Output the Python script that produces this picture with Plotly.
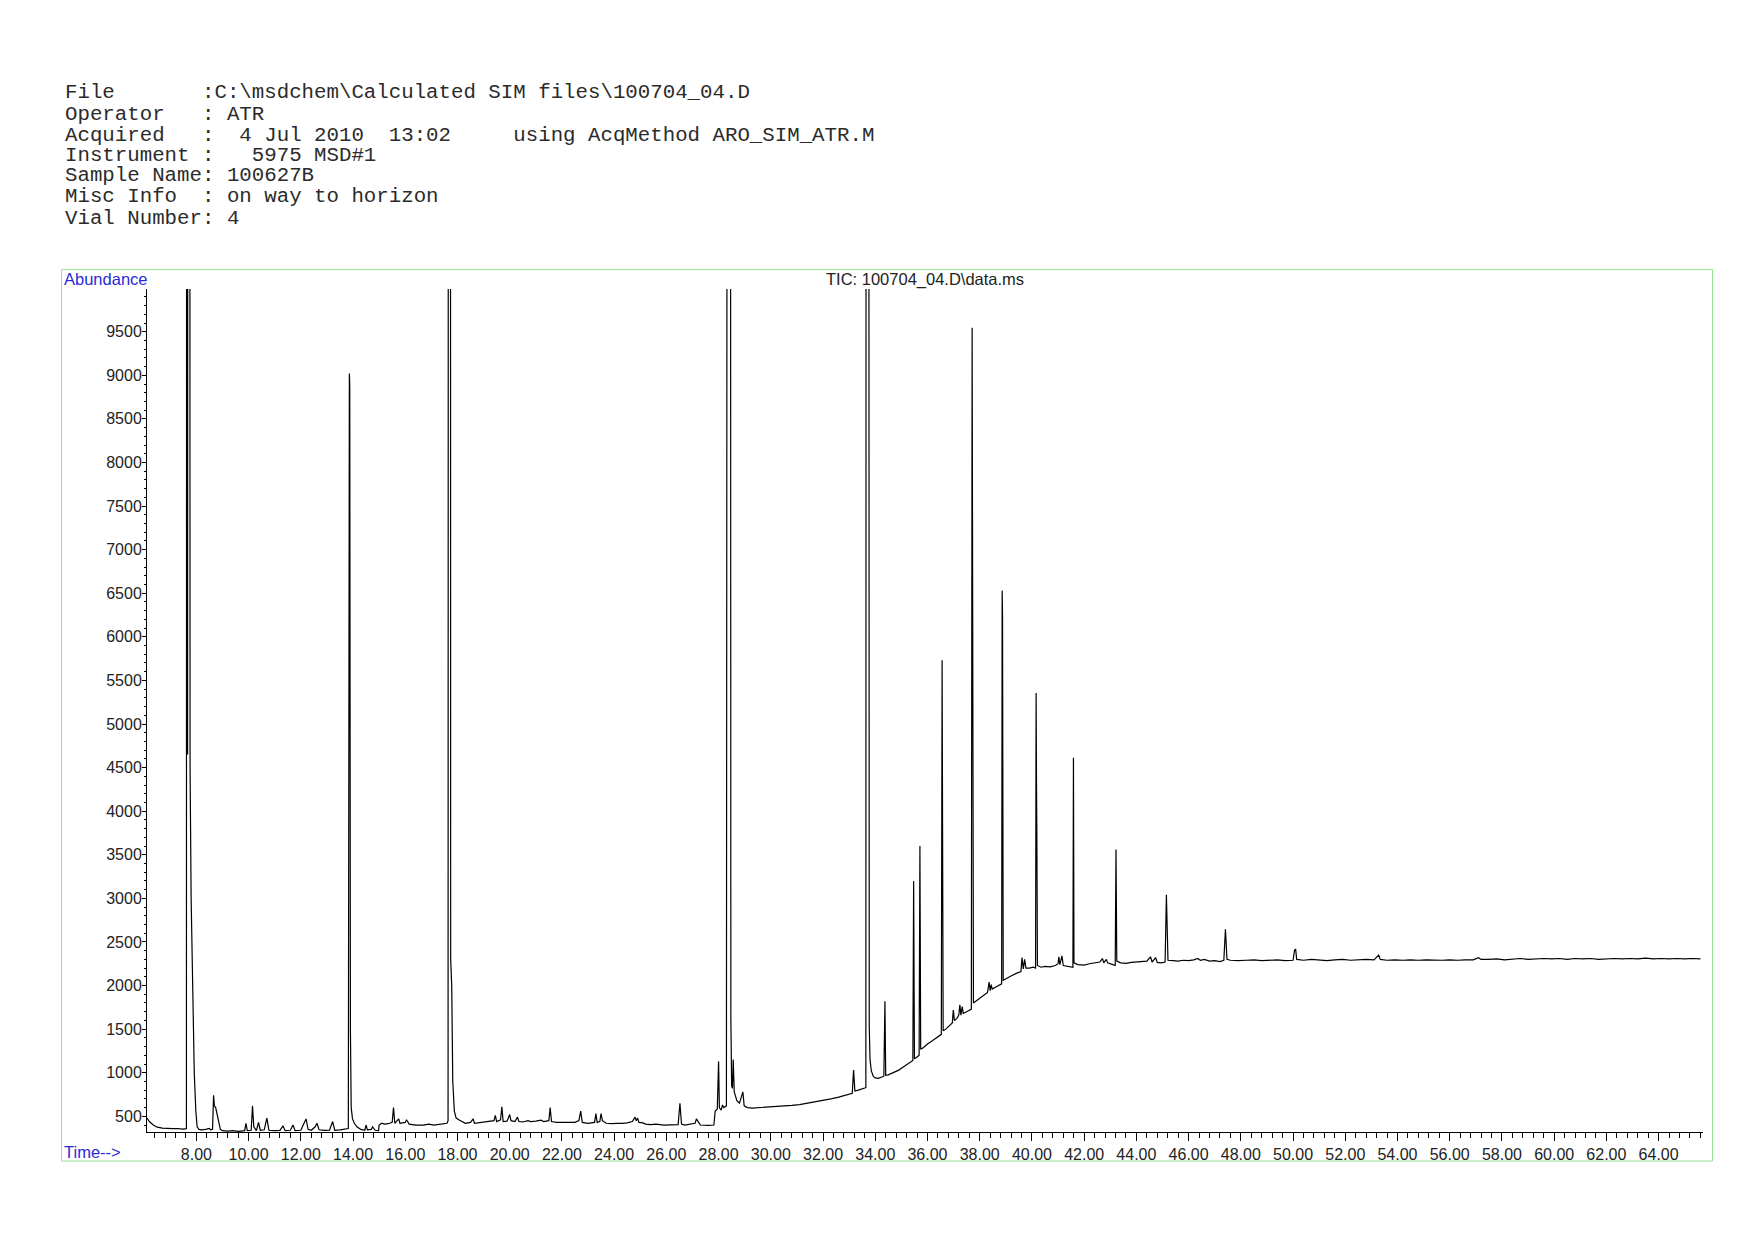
import plotly.graph_objects as go

# ---------------- header text ----------------
header_lines = [
    "File       :C:\\msdchem\\Calculated SIM files\\100704_04.D",
    "Operator   : ATR",
    "Acquired   :  4 Jul 2010  13:02     using AcqMethod ARO_SIM_ATR.M",
    "Instrument :   5975 MSD#1",
    "Sample Name: 100627B",
    "Misc Info  : on way to horizon",
    "Vial Number: 4",
]
chart_title = "TIC: 100704_04.D\\data.ms"
y_label = "Abundance"
x_label = "Time-->"

# ---------------- chromatogram (retention time [min], abundance) ----------------
t_early = [6.11, 6.2, 6.35, 6.5, 6.7, 6.9, 7.1, 7.3, 7.45, 7.58, 7.62, 7.635, 7.665, 7.68, 7.73,
           7.76, 7.80, 7.86, 7.92, 7.98, 8.03, 8.1, 8.2, 8.35, 8.5, 8.55, 8.62, 8.66, 8.69, 8.74,
           8.8, 8.86, 8.92, 9.0, 9.2, 9.4, 9.6, 9.85, 9.9, 9.95, 10.1, 10.15, 10.2, 10.3, 10.38,
           10.45, 10.6, 10.7, 10.78, 11.0, 11.2, 11.32, 11.4, 11.6, 11.7, 11.78, 12.0, 12.2, 12.28,
           12.4, 12.55, 12.62, 12.7, 12.9, 13.1, 13.22, 13.3, 13.5, 13.7, 13.82, 13.86, 13.875,
           13.9, 13.93, 13.98, 14.05, 14.15, 14.3, 14.45, 14.5, 14.55, 14.7, 14.75, 14.85, 14.98,
           15.0, 15.1, 15.2, 15.35, 15.5, 15.55, 15.6, 15.75, 15.8, 16.0, 16.05, 16.15, 16.4, 16.7,
           16.9, 17.1, 17.3, 17.5, 17.6, 17.64, 17.66, 17.72, 17.74, 17.78, 17.82, 17.88, 17.95,
           18.05, 18.15]
a_early = [480, 440, 400, 375, 365, 360, 358, 360, 352, 355, 360, 30000, 4650, 30000, 30000,
           4500, 3000, 1800, 1000, 560, 380, 350, 345, 350, 360, 345, 350, 740, 620, 600,
           520, 420, 350, 335, 330, 335, 328, 335, 420, 335, 340, 620, 380, 335, 430,
           340, 345, 480, 340, 335, 338, 390, 335, 340, 400, 335, 340, 470, 350,
           340, 380, 420, 345, 338, 340, 440, 340, 345, 350, 360, 9020, 8870,
           1500, 600, 470, 420, 380, 350, 340, 400, 345, 350, 380, 340, 335,
           400, 420, 410, 415, 430, 600, 420, 470, 420, 430, 460, 410, 400, 400,
           410, 400, 405, 410, 420, 450, 30000, 30000, 2300, 2000, 900, 560, 480,
           460, 440]

t_mid = [18.3, 18.5, 18.6, 18.65, 18.8, 19.0, 19.2, 19.4, 19.45, 19.5, 19.65, 19.7, 19.75, 19.9,
         20.0, 20.05, 20.2, 20.3, 20.35, 20.5, 20.7, 20.8, 21.0, 21.2, 21.3, 21.5, 21.55, 21.6,
         21.8, 22.0, 22.2, 22.5, 22.65, 22.72, 22.78, 23.0, 23.25, 23.3, 23.35, 23.45, 23.5, 23.55,
         23.7, 23.9, 24.1, 24.3, 24.5, 24.7, 24.8, 24.85, 24.9, 24.95, 25.1, 25.2, 25.4, 25.6,
         25.9, 26.2, 26.45, 26.52, 26.58, 26.7, 26.95, 27.1, 27.15, 27.3, 27.6, 27.82, 27.87,
         27.95, 28.0, 28.03, 28.1, 28.15, 28.2, 28.3, 28.36, 28.44, 28.47, 28.5, 28.53, 28.56,
         28.6, 28.7, 28.8, 28.85, 28.93, 28.98, 29.1, 29.3, 29.6, 29.9, 30.2, 30.5, 30.8, 31.1,
         31.4, 31.7, 32.0, 32.3, 32.6, 32.9, 33.12, 33.17, 33.22, 33.35, 33.5, 33.6]
a_mid = [420, 430, 470, 420, 425, 430, 440, 450, 510, 440, 460, 610, 440, 445,
         520, 450, 440, 490, 440, 435, 450, 440, 445, 455, 440, 450, 600, 440,
         430, 430, 425, 430, 450, 560, 430, 420, 430, 530, 430, 440, 530, 450,
         420, 415, 420, 418, 425, 440, 490, 450, 480, 430, 425, 410, 405, 410,
         400, 400, 405, 650, 410, 400, 410, 420, 470, 400, 395, 400, 560,
         580, 1130, 600, 570, 630, 600, 620, 30000, 30000, 1630, 850, 820, 1150,
         780, 680, 650, 700, 780, 620, 600, 595, 600, 605, 610, 615, 625, 635,
         650, 665, 680, 700, 720, 750, 765, 1030, 790, 800, 810, 825]

t_ramp = [33.64, 33.66, 33.73, 33.75, 33.77, 33.8, 33.85, 33.92, 34.0, 34.12, 34.25, 34.33, 34.37,
          34.40, 34.5, 34.7, 34.9, 35.1, 35.3, 35.44, 35.47, 35.5, 35.6, 35.68, 35.71, 35.74,
          35.85, 36.0, 36.2, 36.4, 36.53, 36.56, 36.58, 36.6, 36.7, 36.85, 36.95, 36.99, 37.03,
          37.12, 37.2, 37.24, 37.28, 37.33, 37.37, 37.5, 37.68, 37.71, 37.725, 37.74, 37.76,
          37.9, 38.1, 38.3, 38.36, 38.4, 38.44, 38.48, 38.6, 38.75, 38.84, 38.86, 38.875, 38.9,
          39.0, 39.2, 39.4, 39.58, 39.62, 39.67, 39.72, 39.77, 39.9, 40.05, 40.14, 40.16, 40.175,
          40.19, 40.21, 40.35, 40.5, 40.7, 40.9, 41.0, 41.03, 41.07, 41.15, 41.2, 41.35, 41.5,
          41.57, 41.59, 41.61, 41.75, 42.0, 42.2, 42.4, 42.6, 42.7, 42.75, 42.85, 42.9, 43.1,
          43.19, 43.22, 43.25, 43.4, 43.6, 43.8, 44.0]
a_ramp = [830, 30000, 30000, 5000, 1530, 1150, 1020, 960, 940, 935, 945, 960, 1820,
          970, 975, 1000, 1030, 1070, 1110, 1140, 3200, 1160, 1180, 1200, 3600, 1270,
          1290, 1330, 1370, 1410, 1440, 5730, 4280, 1480, 1500, 1540, 1570, 1720, 1600,
          1620, 1660, 1780, 1660, 1760, 1680, 1700, 1730, 9546, 7760, 5280, 1800,
          1830, 1880, 1920, 2040, 1940, 2010, 1960, 1980, 2000, 2020, 6530, 6210, 2060,
          2080, 2110, 2140, 2160, 2320, 2190, 2300, 2200, 2200, 2210, 2200, 5357, 4330,
          3670, 2230, 2210, 2220, 2215, 2230, 2250, 2330, 2240, 2340, 2230, 2225, 2215,
          2210, 4614, 2260, 2240, 2235, 2250, 2260, 2270, 2310, 2260, 2300, 2260, 2240,
          2230, 3560, 2280, 2260, 2255, 2265, 2270]

t_late = [44.2, 44.4, 44.54, 44.6, 44.74, 44.8, 44.95, 45.1, 45.15, 45.18, 45.21, 45.4, 45.6, 45.8,
          46.0, 46.2, 46.35, 46.45, 46.6, 46.8, 47.0, 47.2, 47.35, 47.41, 47.44, 47.47, 47.6,
          47.9, 48.2, 48.5, 48.8, 49.1, 49.4, 49.7, 50.0, 50.06, 50.1, 50.14, 50.4, 50.7, 51.0,
          51.3, 51.6, 51.9, 52.2, 52.5, 52.8, 53.1, 53.28, 53.34, 53.6, 53.9, 54.2, 54.5, 54.8,
          55.1, 55.4, 55.7, 56.0, 56.3, 56.6, 56.9, 57.1, 57.2, 57.5, 57.8, 58.1, 58.4, 58.7,
          59.0, 59.3, 59.6, 59.9, 60.2, 60.5, 60.8, 61.1, 61.4, 61.7, 62.0, 62.3, 62.6, 62.9,
          63.2, 63.5, 63.8, 64.1, 64.4, 64.7, 65.0, 65.3, 65.6]
a_late = [2270, 2280, 2330, 2270, 2320, 2265, 2260, 2270, 3040, 2600, 2290, 2285, 2280, 2290,
          2285, 2295, 2310, 2290, 2300, 2280, 2285, 2275, 2290, 2645, 2450, 2300, 2290,
          2285, 2290, 2295, 2285, 2290, 2295, 2285, 2290, 2410, 2415, 2300, 2290, 2300, 2295,
          2285, 2295, 2300, 2290, 2295, 2300, 2295, 2350, 2300, 2290, 2295, 2290, 2295, 2290,
          2295, 2290, 2290, 2295, 2290, 2295, 2295, 2320, 2300, 2300, 2305, 2295, 2305, 2310,
          2300, 2305, 2310, 2305, 2310, 2300, 2310, 2305, 2310, 2300, 2305, 2310, 2305, 2310,
          2305, 2315, 2305, 2310, 2305, 2310, 2305, 2310, 2305]

x_range = [6.11, 65.7]
y_range = [320, 9990]

# ---------------- figure ----------------
OFF = 8                       # default body margin of the html page
W, H = 1754 - 2 * OFF, 1240 - 2 * OFF
ML, MT = 147 - OFF, 289 - OFF
PW, PH = 1556, 843
MR, MB = W - ML - PW, H - MT - PH


def px(x):  # page pixel -> paper x
    return (x - OFF - ML) / PW


def py(y):  # page pixel -> paper y
    return (MT + PH - (y - OFF)) / PH


fig = go.Figure()
fig.add_trace(go.Scatter(
    x=t_early + t_mid + t_ramp + t_late,
    y=a_early + a_mid + a_ramp + a_late,
    mode="lines",
    line=dict(color="black", width=1.2),
    hoverinfo="skip",
    showlegend=False,
))

tick_font = dict(family="Liberation Sans, Arial, sans-serif", size=16, color="#222222")

fig.update_layout(
    width=W, height=H,
    margin=dict(l=ML, r=MR, t=MT, b=MB),
    paper_bgcolor="white", plot_bgcolor="white",
    showlegend=False,
    xaxis=dict(
        range=x_range, showgrid=False, zeroline=False,
        showline=True, linecolor="black", linewidth=1,
        ticks="outside", ticklen=8, tickwidth=1, tickcolor="black",
        tick0=0, dtick=2, tickformat=".2f", tickfont=tick_font,
        minor=dict(ticks="outside", ticklen=5, tickwidth=1, tickcolor="black",
                   tick0=0, dtick=0.4, showgrid=False),
    ),
    yaxis=dict(
        range=y_range, showgrid=False, zeroline=False,
        showline=True, linecolor="black", linewidth=1,
        ticks="outside", ticklen=4, tickwidth=1, tickcolor="black",
        tick0=0, dtick=500, tickformat="d", tickfont=tick_font,
        ticklabelstandoff=-3,
        minor=dict(ticks="outside", ticklen=2, tickwidth=1, tickcolor="black",
                   tick0=0, dtick=100, showgrid=False),
    ),
)

# green frame around the plot panel
fig.add_shape(type="rect", xref="paper", yref="paper",
              x0=px(61.5), x1=px(1712.5), y0=py(1161), y1=py(269.6),
              line=dict(color="rgb(150,228,150)", width=1), fillcolor="rgba(0,0,0,0)",
              layer="below")

# header block (monospace)
line_y = [92.8, 114.1, 135.4, 155.5, 175.6, 196.9, 218.1]
for txt, yy in zip(header_lines, line_y):
    fig.add_annotation(xref="paper", yref="paper", x=px(62.5), y=py(yy),
                       text=txt.replace(" ", "\u00a0"), showarrow=False,
                       xanchor="left", yanchor="middle",
                       font=dict(family="Liberation Mono, Courier New, monospace",
                                 size=20.75, color="#2b2b2b"))

blue = "#2a2ad8"
fig.add_annotation(xref="paper", yref="paper", x=px(61.5), y=py(278.5),
                   text=y_label, showarrow=False, xanchor="left", yanchor="middle",
                   font=dict(family="Liberation Sans, Arial, sans-serif", size=16.5, color=blue))
fig.add_annotation(xref="paper", yref="paper", x=px(61.5), y=py(1152),
                   text=x_label, showarrow=False, xanchor="left", yanchor="middle",
                   font=dict(family="Liberation Sans, Arial, sans-serif", size=16.5, color=blue))
fig.add_annotation(xref="paper", yref="paper", x=px(925), y=py(279.6),
                   text=chart_title, showarrow=False, xanchor="center", yanchor="middle",
                   font=dict(family="Liberation Sans, Arial, sans-serif", size=16.5, color="#222222"))

fig.write_html("out.html", config={"displayModeBar": False})
